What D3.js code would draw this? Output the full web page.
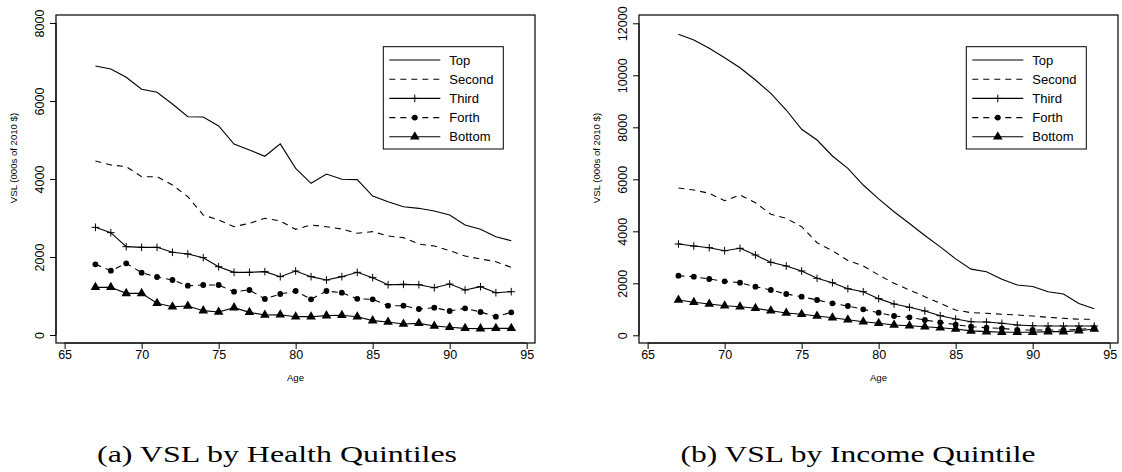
<!DOCTYPE html>
<html>
<head>
<meta charset="utf-8">
<script src="https://cdn.jsdelivr.net/npm/d3@7"></script>
<style>
body { margin: 0; background: #fff; }
text { font-family: "Liberation Sans", Arial, sans-serif; }
text.caption { font-family: "Liberation Serif", "DejaVu Serif", serif; }
</style>
</head>
<body>
<script>
var w = 1122;
var h = 472;

// ages on the x axis
var ages = [67, 68, 69, 70, 71, 72, 73, 74, 75, 76, 77, 78, 79, 80,
            81, 82, 83, 84, 85, 86, 87, 88, 89, 90, 91, 92, 93, 94];

var seriesNames = ["Top", "Second", "Third", "Forth", "Bottom"];

// (a) health quintiles, 000s of 2010 $
var healthTop    = [6897, 6820, 6607, 6300, 6223, 5923, 5597, 5590, 5359, 4897, 4743, 4582, 4900, 4274,
                    3890, 4128, 3992, 3983, 3564, 3419, 3290, 3248, 3180, 3077, 2820, 2710, 2521, 2418];
var healthSecond = [4462, 4359, 4316, 4059, 4059, 3846, 3546, 3077, 2949, 2777, 2864, 2992, 2923, 2710,
                    2820, 2777, 2718, 2608, 2650, 2538, 2496, 2333, 2282, 2162, 2025, 1949, 1880, 1735];
var healthThird  = [2761, 2624, 2265, 2248, 2248, 2120, 2077, 1983, 1752, 1607, 1607, 1624, 1496, 1641,
                    1496, 1410, 1496, 1607, 1470, 1290, 1299, 1290, 1213, 1307, 1154, 1239, 1085, 1111];
var healthForth  = [1812, 1649, 1838, 1598, 1487, 1410, 1265, 1282, 1282, 1111, 1154, 923, 1051, 1128,
                    915, 1128, 1085, 927, 915, 752, 752, 667, 701, 615, 684, 590, 470, 581];
var healthBottom = [1222, 1222, 1068, 1068, 812, 726, 743, 624, 590, 701, 581, 513, 521, 470,
                    470, 496, 508, 470, 368, 334, 282, 299, 231, 197, 171, 163, 171, 171];

// (b) income quintiles
var incomeTop    = [11577, 11357, 11038, 10677, 10292, 9819, 9307, 8665, 7923, 7511, 6896, 6422, 5780, 5250,
                    4754, 4300, 3840, 3400, 2940, 2545, 2446, 2154, 1935, 1880, 1677, 1588, 1220, 1018];
var incomeSecond = [5665, 5588, 5461, 5177, 5396, 5100, 4654, 4500, 4177, 3561, 3254, 2880, 2665, 2319,
                    2000, 1742, 1485, 1231, 973, 870, 846, 808, 781, 742, 692, 654, 615, 615];
var incomeThird  = [3511, 3434, 3370, 3254, 3346, 3088, 2807, 2665, 2473, 2192, 2023, 1790, 1677, 1410,
                    1204, 1077, 935, 754, 627, 523, 512, 462, 396, 369, 358, 358, 358, 358];
var incomeForth  = [2292, 2254, 2165, 2077, 2023, 1869, 1742, 1588, 1485, 1358, 1231, 1127, 1000, 869,
                    742, 692, 588, 500, 410, 331, 292, 269, 204, 204, 204, 204, 231, 269];
var incomeBottom = [1358, 1269, 1204, 1138, 1100, 1038, 946, 858, 808, 742, 677, 600, 523, 462,
                    396, 369, 331, 292, 240, 170, 140, 115, 115, 115, 140, 140, 177, 242];

var xTicks = [65, 70, 75, 80, 85, 90, 95];
var healthTicks = [0, 2000, 4000, 6000, 8000];
var incomeTicks = [0, 2000, 4000, 6000, 8000, 10000, 12000];

var svg = d3.select("body")
            .append("svg")
            .attr("width", w)
            .attr("height", h);

// line style + marker per quintile
var styles = [
    {dash: null,  marker: null},
    {dash: "6,5", marker: null},
    {dash: null,  marker: "plus"},
    {dash: "6,5", marker: "dot"},
    {dash: null,  marker: "tri"}
];

function drawMarker(g, type, x, y) {
    if (type === "plus") {
        g.append("path")
            .attr("d", "M" + (x - 3.8) + "," + y + "H" + (x + 3.8) + "M" + x + "," + (y - 3.8) + "V" + (y + 3.8))
            .attr("stroke", "#000").attr("stroke-width", 1);
    } else if (type === "dot") {
        g.append("circle").attr("cx", x).attr("cy", y).attr("r", 2.9).attr("fill", "#000");
    } else if (type === "tri") {
        g.append("path")
            .attr("d", d3.symbol().type(d3.symbolTriangle).size(40)())
            .attr("transform", "translate(" + x + "," + y + ")")
            .attr("fill", "#000");
    }
}

function panel(opts) {
    var x = d3.scaleLinear().domain([64.44, 95.54]).range([opts.left, opts.left + 479]);
    var y = d3.scaleLinear().domain(opts.yDomain).range([343, 15]);
    var g = svg.append("g");

    // box
    g.append("rect")
        .attr("x", opts.left).attr("y", 15)
        .attr("width", 479).attr("height", 328)
        .attr("fill", "none").attr("stroke", "#000").attr("stroke-width", 1.2);

    // x axis
    var xa = g.append("g")
        .attr("transform", "translate(0,343)")
        .call(d3.axisBottom(x).tickValues(xTicks).tickSize(6).tickSizeOuter(0));
    xa.select(".domain").attr("d", "M" + x(65) + ",0H" + x(95));
    xa.selectAll("text").attr("font-size", "12.5px").attr("dy", "0.95em").attr("y", 4);

    // y axis, labels rotated like base R
    var ya = g.append("g")
        .attr("transform", "translate(" + opts.left + ",0)")
        .call(d3.axisLeft(y).tickValues(opts.yTicks).tickFormat(d3.format("d"))
              .tickSize(6).tickSizeOuter(0));
    ya.select(".domain").attr("d", "M0," + y(opts.yTicks[0]) + "V" + y(opts.yTicks[opts.yTicks.length - 1]));
    ya.selectAll("text")
        .attr("font-size", "12.5px")
        .attr("text-anchor", "middle")
        .attr("transform", "rotate(-90)")
        .attr("x", 0).attr("y", -12).attr("dy", 0);

    g.append("text")
        .attr("transform", "translate(" + (opts.left - 39) + ",158) rotate(-90)")
        .attr("text-anchor", "middle")
        .attr("font-size", "9.6px")
        .text("VSL (000s of 2010 $)");

    g.append("text")
        .attr("x", opts.left + 239.5).attr("y", 381)
        .attr("text-anchor", "middle")
        .attr("font-size", "9.6px")
        .text("Age");

    var line = d3.line()
        .x(function(d, i) { return x(ages[i]); })
        .y(function(d) { return y(d); });

    opts.series.forEach(function(vals, k) {
        var st = styles[k];
        g.append("path")
            .attr("d", line(vals))
            .attr("fill", "none")
            .attr("stroke", "#000")
            .attr("stroke-width", 1.1)
            .attr("stroke-dasharray", st.dash);
        if (st.marker) {
            vals.forEach(function(v, i) {
                drawMarker(g, st.marker, x(ages[i]), y(v));
            });
        }
    });

    // legend
    var lx = opts.left + 327.3;
    var lg = g.append("g");
    lg.append("rect")
        .attr("x", lx).attr("y", 46.7)
        .attr("width", 120).attr("height", 102.3)
        .attr("fill", "#fff").attr("stroke", "#000").attr("stroke-width", 1);
    seriesNames.forEach(function(name, k) {
        var yy = 60 + k * 19.2;
        var st = styles[k];
        lg.append("line")
            .attr("x1", lx + 6).attr("x2", lx + 57)
            .attr("y1", yy).attr("y2", yy)
            .attr("stroke", "#000").attr("stroke-width", 1.1)
            .attr("stroke-dasharray", st.dash);
        if (st.marker) drawMarker(lg, st.marker, lx + 31.5, yy);
        lg.append("text")
            .attr("x", lx + 66).attr("y", yy)
            .attr("dy", "0.36em")
            .attr("font-size", "13px")
            .text(name);
    });

    svg.append("text")
        .attr("class", "caption")
        .attr("x", opts.capX).attr("y", 462)
        .attr("text-anchor", "middle")
        .attr("font-size", "24px")
        .attr("textLength", opts.capW)
        .attr("lengthAdjust", "spacingAndGlyphs")
        .text(opts.caption);
}

panel({
    left: 56,
    yDomain: [-205, 8205],
    yTicks: healthTicks,
    series: [healthTop, healthSecond, healthThird, healthForth, healthBottom],
    caption: "(a) VSL by Health Quintiles",
    capX: 277, capW: 360
});

panel({
    left: 639,
    yDomain: [-296, 12319],
    yTicks: incomeTicks,
    series: [incomeTop, incomeSecond, incomeThird, incomeForth, incomeBottom],
    caption: "(b) VSL by Income Quintile",
    capX: 858, capW: 355
});
</script>
</body>
</html>
